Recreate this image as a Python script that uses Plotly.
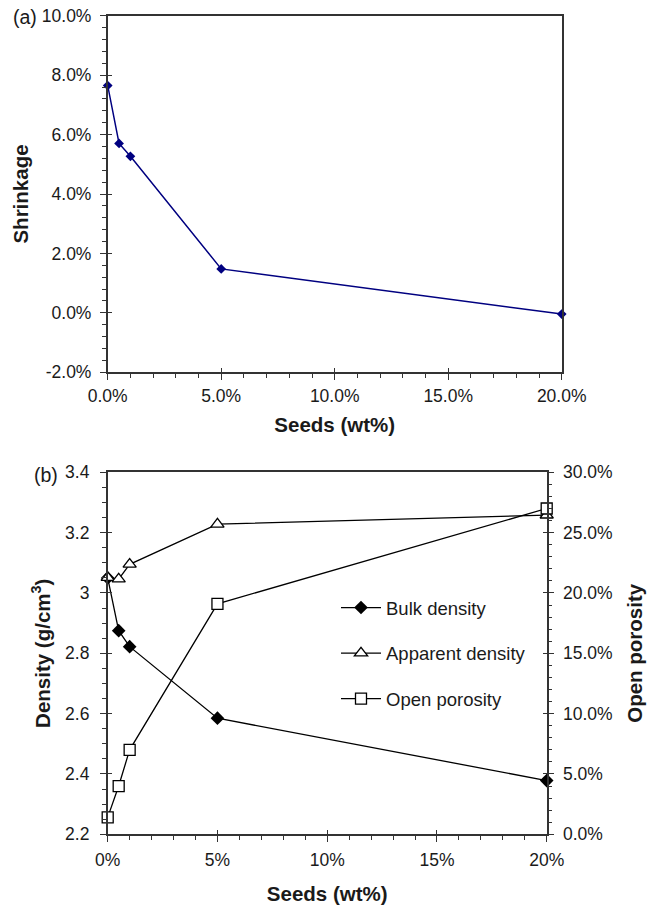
import plotly.graph_objects as go

# ---- data ----
seeds_a = [0, 0.5, 1, 5, 20]            # wt%
shrinkage = [7.65, 5.70, 5.27, 1.48, -0.04]  # %
shrink_ticks = [-2, 0, 2, 4, 6, 8, 10]
shrink_ticklabels = ["-2.0%", "0.0%", "2.0%", "4.0%", "6.0%", "8.0%", "10.0%"]

seeds_b = [0, 0.5, 1, 5, 20]            # wt%
bulk_density = [3.05, 2.875, 2.822, 2.585, 2.378]      # g/cm3
apparent_density = [3.051, 3.046, 3.095, 3.228, 3.258]  # g/cm3
open_porosity = [1.4, 4.0, 7.0, 19.1, 27.0]             # %

W, H = 660, 907
FONT = "Liberation Sans, Arial, sans-serif"
TXT = "#1a1a1a"
AX = "#333333"

def px(x):
    return x / W

def py(y):
    return 1 - y / H

# panel geometry (pixels)
a_x0, a_x1, a_y0, a_y1 = 107.7, 561.7, 15.7, 372.3
b_x0, b_x1, b_y0, b_y1 = 107.7, 546.7, 472.3, 834.3

fig = go.Figure()

fig.add_trace(go.Scatter(
    x=seeds_a, y=shrinkage, mode="lines+markers",
    line=dict(color="#000080", width=1.5),
    marker=dict(symbol="diamond", size=7.5, color="#000080"),
    xaxis="x", yaxis="y", showlegend=False, cliponaxis=False))

fig.add_trace(go.Scatter(
    x=seeds_b, y=bulk_density, mode="lines+markers", name="Bulk density",
    line=dict(color="black", width=1.3),
    marker=dict(symbol="diamond", size=10.5, color="black"),
    xaxis="x2", yaxis="y2", legendgroup="g1", cliponaxis=False))

fig.add_trace(go.Scatter(
    x=seeds_b, y=apparent_density, mode="lines+markers", name="Apparent density",
    line=dict(color="black", width=1.3),
    marker=dict(symbol="triangle-up", size=11.5, color="white",
                line=dict(color="black", width=1.3)),
    xaxis="x2", yaxis="y2", legendgroup="g2", cliponaxis=False))

fig.add_trace(go.Scatter(
    x=seeds_b, y=open_porosity, mode="lines+markers", name="Open porosity",
    line=dict(color="black", width=1.3),
    marker=dict(symbol="square", size=11, color="white",
                line=dict(color="black", width=1.3)),
    xaxis="x2", yaxis="y3", legendgroup="g3", cliponaxis=False))

tickfont = dict(family=FONT, size=17.5, color=TXT)
titlefont = dict(family=FONT, size=20.5, color=TXT)

common = dict(showgrid=False, zeroline=False, showline=True, linecolor=AX,
              linewidth=1.5, ticks="outside", ticklen=6, tickwidth=1.3,
              tickcolor=AX, tickfont=tickfont, automargin=False)

def minor(dt):
    return dict(dtick=dt, ticks="outside", ticklen=3.5, tickwidth=1.1,
                tickcolor=AX, showgrid=False)

# inside-half of crossing major ticks
inner = dict(showgrid=False, zeroline=False, showline=False, ticks="inside",
             ticklen=4, tickwidth=1.3, tickcolor=AX, showticklabels=False,
             automargin=False)

layout = dict(
    width=W, height=H, margin=dict(l=0, r=0, t=0, b=0, autoexpand=False),
    paper_bgcolor="white", plot_bgcolor="white",
    font=dict(family=FONT, color=TXT),
    xaxis=dict(common, domain=[px(a_x0), px(a_x1)], anchor="y",
               range=[0, 20], tick0=0, dtick=5, minor=minor(1),
               tickformat=".1f", ticksuffix="%", mirror=True,
               ticklabelstandoff=1,
               title=dict(text="<b>Seeds (wt%)</b>", font=titlefont, standoff=13)),
    yaxis=dict(common, domain=[py(a_y1), py(a_y0)], anchor="x",
               range=[-2, 10], tickmode="array", tickvals=shrink_ticks,
               ticktext=shrink_ticklabels, minor=dict(minor(0.4), tick0=0),
               mirror=True, ticklabelstandoff=5,
               title=dict(text="<b>Shrinkage</b>", font=titlefont, standoff=8)),
    xaxis2=dict(common, domain=[px(b_x0), px(b_x1)], anchor="y2",
                range=[0, 20], tick0=0, dtick=5, minor=minor(1),
                ticksuffix="%", mirror=True, ticklabelstandoff=3,
                title=dict(text="<b>Seeds (wt%)</b>", font=titlefont, standoff=18)),
    yaxis2=dict(common, domain=[py(b_y1), py(b_y0)], anchor="x2",
                range=[2.2, 3.4], tick0=2.2, dtick=0.2, minor=minor(0.05),
                ticklabelstandoff=7,
                title=dict(text="<b>Density (g/cm<sup>3</sup>)</b>", font=titlefont,
                           standoff=9)),
    yaxis3=dict(common, overlaying="y2", side="right", anchor="x2",
                range=[0, 30], tick0=0, dtick=5, minor=minor(1),
                tickformat=".1f", ticksuffix="%", ticklabelstandoff=5,
                title=dict(text="<b>Open porosity</b>", font=titlefont, standoff=16)),
    # overlay axes that draw the inner half of the crossing major ticks
    xaxis3=dict(inner, overlaying="x", anchor="y", range=[0, 20], tick0=0, dtick=5),
    yaxis4=dict(inner, overlaying="y", anchor="x", side="left", range=[-2, 10], tick0=0, dtick=2),
    xaxis4=dict(inner, overlaying="x2", anchor="y2", range=[0, 20], tick0=0, dtick=5),
    yaxis5=dict(inner, overlaying="y2", anchor="x2", side="left", range=[2.2, 3.4], tick0=2.2, dtick=0.2),
    yaxis6=dict(inner, overlaying="y2", anchor="x2", side="right", range=[0, 30], tick0=0, dtick=5),
    legend=dict(x=px(336), y=py(589), xanchor="left", yanchor="top",
                bgcolor="rgba(0,0,0,0)", font=dict(family=FONT, size=18.5, color=TXT),
                tracegroupgap=18.5, itemwidth=40),
    annotations=[
        dict(text="(a)", x=px(25), y=py(17), xref="paper", yref="paper",
             xanchor="center", yanchor="middle",
             showarrow=False, font=dict(family=FONT, size=19.5, color=TXT)),
        dict(text="(b)", x=px(46), y=py(475), xref="paper", yref="paper",
             xanchor="center", yanchor="middle",
             showarrow=False, font=dict(family=FONT, size=19.5, color=TXT)),
    ],
)
fig.update_layout(layout)

# empty traces so the overlay tick axes are always rendered
for xa, ya in [("x3", "y"), ("x", "y4"), ("x4", "y2"), ("x2", "y5"), ("x2", "y6")]:
    fig.add_trace(go.Scatter(x=[], y=[], xaxis=xa, yaxis=ya, showlegend=False,
                             hoverinfo="skip"))

fig.write_html("out.html")
